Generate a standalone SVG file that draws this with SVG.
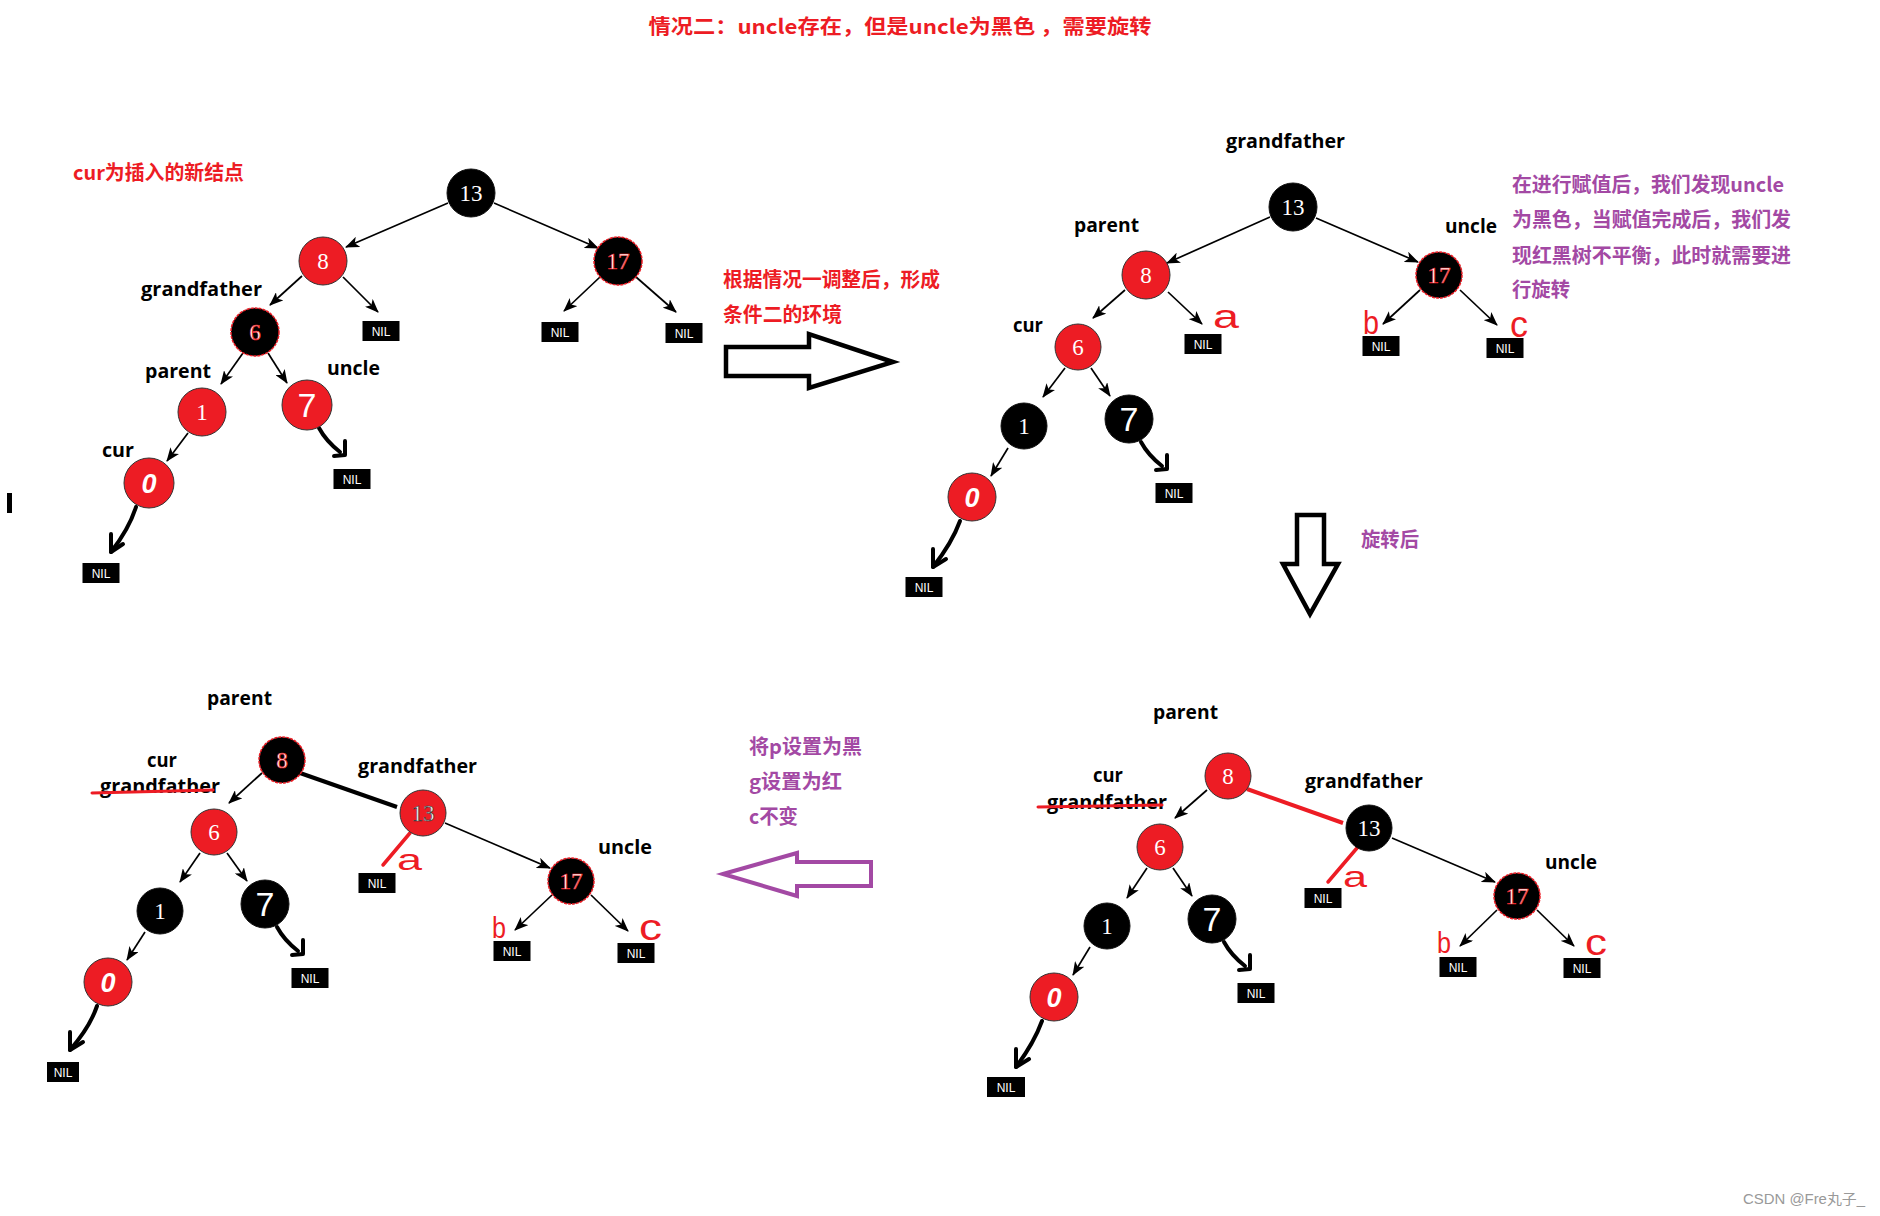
<svg xmlns="http://www.w3.org/2000/svg" width="1880" height="1216" viewBox="0 0 1880 1216">
<defs>
<marker id="ah" viewBox="0 0 14 11" refX="13" refY="5.5" markerWidth="14" markerHeight="11" markerUnits="userSpaceOnUse" orient="auto">
<path d="M0,0 L14,5.5 L0,11 L3.5,5.5 z" fill="#000"/>
</marker>
<style>
.bg{fill:#fff}
.e{stroke:#000;stroke-width:1.7;fill:none;marker-end:url(#ah)}
.thick{stroke:#000;stroke-width:4;fill:none;stroke-linecap:round;stroke-linejoin:round}
.red{fill:#ED1C24;stroke:#333;stroke-width:1}
.blk{fill:#000;stroke:#111;stroke-width:1}
.blkr{fill:#000;stroke:#ED1C24;stroke-width:1.5;stroke-dasharray:3 1}
.num{font-family:"Liberation Serif",serif;font-size:23px;fill:#fff;text-anchor:middle}
.numr{font-family:"Liberation Serif",serif;font-size:23px;fill:#fff;stroke:#ED1C24;stroke-width:0.7;text-anchor:middle}
.hand{font-family:"Liberation Sans",sans-serif;font-size:34px;fill:#fff;text-anchor:middle}
.hand0{font-family:"Liberation Sans",sans-serif;font-size:27px;font-weight:bold;font-style:italic;fill:#fff;text-anchor:middle}
.nil{fill:#000}
.nilt{font-family:"Liberation Sans",sans-serif;font-size:12px;fill:#fff;text-anchor:middle}
.lbl{font-family:"Open Sans","Noto Sans",sans-serif;font-weight:bold;font-size:19px;fill:#000}
.cn{font-family:"Noto Sans CJK SC","Noto Sans",sans-serif;font-weight:bold;font-size:20px}
.rt{fill:#ED1C24}
.pt{fill:#A349A4}
.abc{font-family:"Liberation Sans",sans-serif;fill:#ED1C24}
.strike{stroke:#ED1C24;stroke-width:3;stroke-linecap:round}
.slash{stroke:#ED1C24;stroke-width:3.5;stroke-linecap:round}
.harrow{fill:#fff;stroke:#000;stroke-width:4.5;stroke-linejoin:miter}
.parrow{fill:#fff;stroke:#A349A4;stroke-width:4;stroke-linejoin:miter}
.wm{font-family:"Liberation Sans","Noto Sans CJK SC",sans-serif;font-size:14px;fill:#999}
</style>
</defs>
<rect class="bg" x="0" y="0" width="1880" height="1216"/>

<!-- Title & annotations -->
<g id="title">
<text class="cn rt" x="900" y="34" font-size="24" text-anchor="middle" textLength="503" lengthAdjust="spacingAndGlyphs">情况二：uncle存在，但是uncle为黑色 ，需要旋转</text>
</g>
<g id="note-cur">
<text class="cn rt" x="73" y="180" textLength="171" lengthAdjust="spacingAndGlyphs">cur为插入的新结点</text>
</g>
<g id="note-adjust">
<text class="cn rt" x="723" y="287" textLength="217" lengthAdjust="spacingAndGlyphs">根据情况一调整后，形成</text>
<text class="cn rt" x="723" y="322" textLength="119" lengthAdjust="spacingAndGlyphs">条件二的环境</text>
</g>
<g id="note-unbalanced">
<text class="cn pt" x="1512" y="192" textLength="272" lengthAdjust="spacingAndGlyphs">在进行赋值后，我们发现uncle</text>
<text class="cn pt" x="1512" y="227" textLength="279" lengthAdjust="spacingAndGlyphs">为黑色，当赋值完成后，我们发</text>
<text class="cn pt" x="1512" y="263" textLength="279" lengthAdjust="spacingAndGlyphs">现红黑树不平衡，此时就需要进</text>
<text class="cn pt" x="1512" y="297" textLength="58" lengthAdjust="spacingAndGlyphs">行旋转</text>
</g>
<g id="note-rotated">
<text class="cn pt" x="1361" y="547" textLength="58" lengthAdjust="spacingAndGlyphs">旋转后</text>
</g>
<g id="note-recolor">
<text class="cn pt" x="749" y="754" textLength="113" lengthAdjust="spacingAndGlyphs">将p设置为黑</text>
<text class="cn pt" x="749" y="789" textLength="93" lengthAdjust="spacingAndGlyphs">g设置为红</text>
<text class="cn pt" x="749" y="824" textLength="49" lengthAdjust="spacingAndGlyphs">c不变</text>
</g>
<g id="watermark"><text class="wm" x="1743" y="1204" textLength="122" lengthAdjust="spacingAndGlyphs">CSDN @Fre丸子_</text></g>
<rect x="7" y="493" width="5" height="20" fill="#000"/>

<!-- Big hollow arrows -->
<g id="arrow-right"><polygon class="harrow" points="726,347 809,347 809,334 893,362 809,388 809,376 726,376"/></g>
<g id="arrow-down"><polygon class="harrow" points="1297,515 1324,515 1324,564 1338,564 1310,614 1283,564 1297,564"/></g>
<g id="arrow-left"><polygon class="parrow" points="723,874 797,853 797,862 871,862 871,886 797,886 797,896"/></g>

<!-- Connectors -->
<g id="connectors">
<!-- tree 1 -->
<line class="e" x1="448" y1="203" x2="346" y2="247"/>
<line class="e" x1="494" y1="203" x2="598" y2="248"/>
<line class="e" x1="302" y1="276" x2="270" y2="305"/>
<line class="e" x1="343" y1="277" x2="378" y2="312"/>
<line class="e" x1="600" y1="277" x2="564" y2="311"/>
<line class="e" x1="636" y1="277" x2="676" y2="312"/>
<line class="e" x1="243" y1="353" x2="221" y2="384"/>
<line class="e" x1="268" y1="353" x2="287" y2="383"/>
<line class="e" x1="188" y1="433" x2="167" y2="461"/>
<g transform="translate(307,405)"><path class="thick" d="M12,23 Q19,36 33,47" stroke-width="3.5"/><path class="thick" d="M38,36 L38,50 L27,51" stroke-width="3.5"/></g>
<g transform="translate(149,483)"><path class="thick" d="M-13,24 Q-20,46 -38,69"/><path class="thick" d="M-38,51 L-38,69 L-26,61"/></g>
<!-- tree 2 -->
<line class="e" x1="1270" y1="217" x2="1167" y2="263"/>
<line class="e" x1="1316" y1="218" x2="1418" y2="262"/>
<line class="e" x1="1168" y1="292" x2="1202" y2="324"/>
<line class="e" x1="1125" y1="290" x2="1093" y2="318"/>
<line class="e" x1="1420" y1="290" x2="1383" y2="324"/>
<line class="e" x1="1460" y1="290" x2="1497" y2="325"/>
<line class="e" x1="1065" y1="368" x2="1043" y2="397"/>
<line class="e" x1="1091" y1="368" x2="1110" y2="396"/>
<line class="e" x1="1008" y1="448" x2="991" y2="476"/>
<g transform="translate(1129,419)"><path class="thick" d="M12,23 Q19,36 33,47" stroke-width="3.5"/><path class="thick" d="M38,36 L38,50 L27,51" stroke-width="3.5"/></g>
<g transform="translate(972,497)"><path class="thick" d="M-12,24 Q-20,46 -39,70"/><path class="thick" d="M-39,52 L-39,70 L-26,62"/></g>
<!-- tree 3 -->
<line class="e" x1="262" y1="773" x2="229" y2="803"/>
<line x1="300" y1="773" x2="397" y2="807" stroke="#000" stroke-width="4"/>
<line class="e" x1="445" y1="823" x2="550" y2="868"/>
<line class="slash" x1="410" y1="833" x2="383" y2="865"/>
<line class="e" x1="200" y1="853" x2="180" y2="882"/>
<line class="e" x1="227" y1="853" x2="247" y2="881"/>
<line class="e" x1="145" y1="932" x2="127" y2="960"/>
<line class="e" x1="552" y1="895" x2="515" y2="930"/>
<line class="e" x1="591" y1="895" x2="628" y2="931"/>
<g transform="translate(265,904)"><path class="thick" d="M12,23 Q19,36 33,47" stroke-width="3.5"/><path class="thick" d="M38,36 L38,50 L27,51" stroke-width="3.5"/></g>
<g transform="translate(108,982)"><path class="thick" d="M-11,24 Q-18,45 -38,68"/><path class="thick" d="M-38,50 L-38,68 L-25,60"/></g>
<!-- tree 4 -->
<line class="e" x1="1207" y1="790" x2="1175" y2="818"/>
<line x1="1247" y1="789" x2="1343" y2="823" stroke="#ED1C24" stroke-width="4"/>
<line class="e" x1="1392" y1="838" x2="1495" y2="882"/>
<line class="slash" x1="1357" y1="848" x2="1328" y2="882"/>
<line class="e" x1="1147" y1="868" x2="1127" y2="898"/>
<line class="e" x1="1173" y1="868" x2="1192" y2="896"/>
<line class="e" x1="1090" y1="947" x2="1073" y2="975"/>
<line class="e" x1="1497" y1="910" x2="1460" y2="946"/>
<line class="e" x1="1537" y1="910" x2="1574" y2="946"/>
<g transform="translate(1212,919)"><path class="thick" d="M12,23 Q19,36 33,47" stroke-width="3.5"/><path class="thick" d="M38,36 L38,50 L27,51" stroke-width="3.5"/></g>
<g transform="translate(1054,997)"><path class="thick" d="M-12,24 Q-20,46 -38,70"/><path class="thick" d="M-38,52 L-38,70 L-25,62"/></g>
</g>

<!-- ===== Tree 1 ===== -->
<g id="t1-n13"><circle class="blk" cx="471" cy="193" r="24"/><text class="num" x="471" y="201">13</text></g>
<g id="t1-n8"><circle class="red" cx="323" cy="261" r="24"/><text class="num" x="323" y="269">8</text></g>
<g id="t1-n17"><circle class="blkr" cx="618" cy="261" r="24"/><text class="numr" x="618" y="269">17</text></g>
<g id="t1-n6"><circle class="blkr" cx="255" cy="332" r="24"/><text class="numr" x="255" y="340">6</text></g>
<g id="t1-n1"><circle class="red" cx="202" cy="412" r="24"/><text class="num" x="202" y="420">1</text></g>
<g id="t1-n7"><circle class="red" cx="307" cy="405" r="25"/><text class="hand" x="307" y="417">7</text></g>
<g id="t1-n0"><circle class="red" cx="149" cy="483" r="25"/><text class="hand0" x="149" y="493">0</text></g>
<g id="t1-nil1"><rect class="nil" x="362.5" y="321" width="37" height="20"/><text class="nilt" x="381" y="335.5">NIL</text></g>
<g id="t1-nil2"><rect class="nil" x="541.5" y="322" width="37" height="20"/><text class="nilt" x="560" y="336.5">NIL</text></g>
<g id="t1-nil3"><rect class="nil" x="665.5" y="323" width="37" height="20"/><text class="nilt" x="684" y="337.5">NIL</text></g>
<g id="t1-nil4"><rect class="nil" x="333.5" y="469" width="37" height="20"/><text class="nilt" x="352" y="483.5">NIL</text></g>
<g id="t1-nil5"><rect class="nil" x="82.5" y="563" width="37" height="20"/><text class="nilt" x="101" y="577.5">NIL</text></g>
<g id="t1-labels">
<text class="lbl" x="141" y="296" textLength="121" lengthAdjust="spacingAndGlyphs">grandfather</text>
<text class="lbl" x="145" y="378" textLength="66" lengthAdjust="spacingAndGlyphs">parent</text>
<text class="lbl" x="327" y="375" textLength="53" lengthAdjust="spacingAndGlyphs">uncle</text>
<text class="lbl" x="102" y="457" textLength="32" lengthAdjust="spacingAndGlyphs">cur</text>
</g>

<!-- ===== Tree 2 ===== -->
<g id="t2-n13"><circle class="blk" cx="1293" cy="207" r="24"/><text class="num" x="1293" y="215">13</text></g>
<g id="t2-n8"><circle class="red" cx="1146" cy="275" r="24"/><text class="num" x="1146" y="283">8</text></g>
<g id="t2-n17"><circle class="blkr" cx="1439" cy="275" r="23"/><text class="numr" x="1439" y="283">17</text></g>
<g id="t2-n6"><circle class="red" cx="1078" cy="347" r="23"/><text class="num" x="1078" y="355">6</text></g>
<g id="t2-n1"><circle class="blk" cx="1024" cy="426" r="23"/><text class="num" x="1024" y="434">1</text></g>
<g id="t2-n7"><circle class="blk" cx="1129" cy="419" r="24"/><text class="hand" x="1129" y="431">7</text></g>
<g id="t2-n0"><circle class="red" cx="972" cy="497" r="24"/><text class="hand0" x="972" y="507">0</text></g>
<g id="t2-nil1"><rect class="nil" x="1184.5" y="334" width="37" height="20"/><text class="nilt" x="1203" y="348.5">NIL</text></g>
<g id="t2-nil2"><rect class="nil" x="1362.5" y="336" width="37" height="20"/><text class="nilt" x="1381" y="350.5">NIL</text></g>
<g id="t2-nil3"><rect class="nil" x="1486.5" y="338" width="37" height="20"/><text class="nilt" x="1505" y="352.5">NIL</text></g>
<g id="t2-nil4"><rect class="nil" x="1155.5" y="483" width="37" height="20"/><text class="nilt" x="1174" y="497.5">NIL</text></g>
<g id="t2-nil5"><rect class="nil" x="905.5" y="577" width="37" height="20"/><text class="nilt" x="924" y="591.5">NIL</text></g>
<g id="t2-labels">
<text class="lbl" x="1226" y="148" textLength="119" lengthAdjust="spacingAndGlyphs">grandfather</text>
<text class="lbl" x="1074" y="232" textLength="65" lengthAdjust="spacingAndGlyphs">parent</text>
<text class="lbl" x="1445" y="233" textLength="52" lengthAdjust="spacingAndGlyphs">uncle</text>
<text class="lbl" x="1013" y="332" textLength="30" lengthAdjust="spacingAndGlyphs">cur</text>
<text class="abc" x="1213" y="328" font-size="34" textLength="26" lengthAdjust="spacingAndGlyphs">a</text>
<text class="abc" x="1363" y="334" font-size="34" textLength="16" lengthAdjust="spacingAndGlyphs">b</text>
<text class="abc" x="1510" y="337" font-size="36" textLength="18" lengthAdjust="spacingAndGlyphs">c</text>
</g>

<!-- ===== Tree 3 (bottom-left) ===== -->
<g id="t3-n8"><circle class="blkr" cx="282" cy="760" r="23"/><text class="numr" x="282" y="768">8</text></g>
<g id="t3-n6"><circle class="red" cx="214" cy="832" r="23"/><text class="num" x="214" y="840">6</text></g>
<g id="t3-n13"><circle class="red" cx="423" cy="813" r="23"/><text class="num" x="423" y="821" stroke="#333" stroke-width="0.6">13</text></g>
<g id="t3-n17"><circle class="blkr" cx="571" cy="881" r="23"/><text class="numr" x="571" y="889">17</text></g>
<g id="t3-n1"><circle class="blk" cx="160" cy="911" r="23"/><text class="num" x="160" y="919">1</text></g>
<g id="t3-n7"><circle class="blk" cx="265" cy="904" r="24"/><text class="hand" x="265" y="916">7</text></g>
<g id="t3-n0"><circle class="red" cx="108" cy="982" r="24"/><text class="hand0" x="108" y="992">0</text></g>
<g id="t3-nil1"><rect class="nil" x="358.5" y="873" width="37" height="20"/><text class="nilt" x="377" y="887.5">NIL</text></g>
<g id="t3-nil2"><rect class="nil" x="291.5" y="968" width="37" height="20"/><text class="nilt" x="310" y="982.5">NIL</text></g>
<g id="t3-nil3"><rect class="nil" x="47" y="1062" width="32" height="20"/><text class="nilt" x="63" y="1076.5">NIL</text></g>
<g id="t3-nil4"><rect class="nil" x="493.5" y="941" width="37" height="20"/><text class="nilt" x="512" y="955.5">NIL</text></g>
<g id="t3-nil5"><rect class="nil" x="617.5" y="943" width="37" height="20"/><text class="nilt" x="636" y="957.5">NIL</text></g>
<g id="t3-labels">
<text class="lbl" x="207" y="705" textLength="65" lengthAdjust="spacingAndGlyphs">parent</text>
<text class="lbl" x="147" y="767" textLength="30" lengthAdjust="spacingAndGlyphs">cur</text>
<text class="lbl" x="100" y="793" textLength="120" lengthAdjust="spacingAndGlyphs">grandfather</text>
<line class="strike" x1="92" y1="793" x2="213" y2="790"/>
<text class="lbl" x="358" y="773" textLength="119" lengthAdjust="spacingAndGlyphs">grandfather</text>
<text class="lbl" x="598" y="854" textLength="54" lengthAdjust="spacingAndGlyphs">uncle</text>
<text class="abc" x="397" y="870" font-size="30" textLength="25" lengthAdjust="spacingAndGlyphs">a</text>
<text class="abc" x="492" y="938" font-size="29" textLength="14" lengthAdjust="spacingAndGlyphs">b</text>
<text class="abc" x="639" y="940" font-size="36" textLength="23" lengthAdjust="spacingAndGlyphs">c</text>
</g>

<!-- ===== Tree 4 (bottom-right) ===== -->
<g id="t4-n8"><circle class="red" cx="1228" cy="776" r="23"/><text class="num" x="1228" y="784">8</text></g>
<g id="t4-n6"><circle class="red" cx="1160" cy="847" r="23"/><text class="num" x="1160" y="855">6</text></g>
<g id="t4-n13"><circle class="blk" cx="1369" cy="828" r="23"/><text class="num" x="1369" y="836">13</text></g>
<g id="t4-n17"><circle class="blkr" cx="1517" cy="896" r="23"/><text class="numr" x="1517" y="904">17</text></g>
<g id="t4-n1"><circle class="blk" cx="1107" cy="926" r="23"/><text class="num" x="1107" y="934">1</text></g>
<g id="t4-n7"><circle class="blk" cx="1212" cy="919" r="24"/><text class="hand" x="1212" y="931">7</text></g>
<g id="t4-n0"><circle class="red" cx="1054" cy="997" r="24"/><text class="hand0" x="1054" y="1007">0</text></g>
<g id="t4-nil1"><rect class="nil" x="1304.5" y="888" width="37" height="20"/><text class="nilt" x="1323" y="902.5">NIL</text></g>
<g id="t4-nil2"><rect class="nil" x="1237.5" y="983" width="37" height="20"/><text class="nilt" x="1256" y="997.5">NIL</text></g>
<g id="t4-nil3"><rect class="nil" x="987" y="1077" width="38" height="20"/><text class="nilt" x="1006" y="1091.5">NIL</text></g>
<g id="t4-nil4"><rect class="nil" x="1439.5" y="957" width="37" height="20"/><text class="nilt" x="1458" y="971.5">NIL</text></g>
<g id="t4-nil5"><rect class="nil" x="1563.5" y="958" width="37" height="20"/><text class="nilt" x="1582" y="972.5">NIL</text></g>
<g id="t4-labels">
<text class="lbl" x="1153" y="719" textLength="65" lengthAdjust="spacingAndGlyphs">parent</text>
<text class="lbl" x="1093" y="782" textLength="30" lengthAdjust="spacingAndGlyphs">cur</text>
<text class="lbl" x="1047" y="809" textLength="120" lengthAdjust="spacingAndGlyphs">grandfather</text>
<line class="strike" x1="1038" y1="807" x2="1162" y2="805"/>
<text class="lbl" x="1305" y="788" textLength="118" lengthAdjust="spacingAndGlyphs">grandfather</text>
<text class="lbl" x="1545" y="869" textLength="52" lengthAdjust="spacingAndGlyphs">uncle</text>
<text class="abc" x="1343" y="887" font-size="30" textLength="24" lengthAdjust="spacingAndGlyphs">a</text>
<text class="abc" x="1437" y="953" font-size="29" textLength="14" lengthAdjust="spacingAndGlyphs">b</text>
<text class="abc" x="1585" y="955" font-size="36" textLength="22" lengthAdjust="spacingAndGlyphs">c</text>
</g>
</svg>
